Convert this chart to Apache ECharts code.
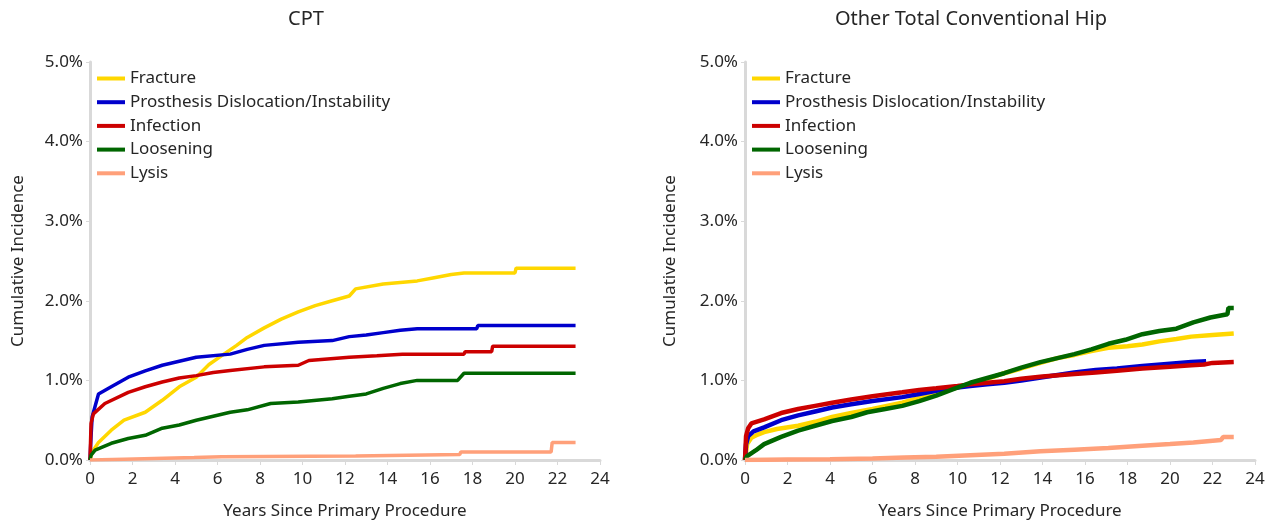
<!DOCTYPE html>
<html>
<head>
<meta charset="utf-8">
<script src="https://cdn.jsdelivr.net/npm/echarts@6/dist/echarts.min.js"></script>
<style>html,body{margin:0;padding:0;background:#fff}#c{width:1275px;height:526px}</style>
</head>
<body>
<div id="c"></div>
<script>
// Series names and colours
const seriesNames = ['Fracture','Prosthesis Dislocation/Instability','Infection','Loosening','Lysis'];
const seriesColors = ['#FFD700','#0000CC','#CC0000','#006600','#FFA07A'];
const xTicks = [0,2,4,6,8,10,12,14,16,18,20,22,24];
const yTicks = [0,1,2,3,4,5]; // percent

// CPT (left) – [years, cumulative incidence %]
const cptFracture = [[0,0],[0.1,0.1],[0.4,0.22],[1.0,0.375],[1.6,0.5],[2.6,0.6],[3.4,0.75],[4.2,0.92],[5.0,1.04],[5.6,1.2],[6.3,1.33],[6.9,1.44],[7.4,1.54],[8.2,1.66],[9.0,1.77],[9.8,1.86],[10.6,1.94],[11.4,2.0],[12.2,2.06],[12.5,2.15],[13.8,2.21],[15.4,2.25],[16.2,2.29],[17.0,2.33],[17.6,2.35],[20.0,2.35],[20.05,2.41],[22.85,2.41]];
const cptDislocation = [[0,0],[0.05,0.3],[0.1,0.54],[0.4,0.83],[1.0,0.92],[1.8,1.04],[2.6,1.12],[3.4,1.19],[4.2,1.24],[5.0,1.29],[6.6,1.33],[7.4,1.39],[8.2,1.44],[9.8,1.48],[11.4,1.5],[12.2,1.55],[13.0,1.57],[13.8,1.6],[14.6,1.63],[15.4,1.65],[18.2,1.65],[18.25,1.69],[22.85,1.69]];
const cptInfection = [[0,0],[0.05,0.46],[0.16,0.58],[0.7,0.71],[1.8,0.85],[2.6,0.92],[3.4,0.98],[4.2,1.03],[5.0,1.06],[5.8,1.1],[6.6,1.125],[8.2,1.17],[9.8,1.19],[10.3,1.25],[12.2,1.29],[13.5,1.31],[14.7,1.33],[17.6,1.33],[17.65,1.36],[18.9,1.36],[18.95,1.43],[22.85,1.43]];
const cptLoosening = [[0,0],[0.05,0.06],[0.24,0.125],[1.0,0.21],[1.8,0.27],[2.6,0.31],[3.4,0.4],[4.2,0.44],[5.0,0.5],[5.8,0.55],[6.6,0.6],[7.4,0.63],[8.5,0.71],[9.8,0.73],[11.4,0.77],[12.2,0.8],[13.0,0.83],[13.8,0.9],[14.6,0.96],[15.4,1.0],[17.3,1.0],[17.6,1.09],[22.85,1.09]];
const cptLysis = [[0,0],[0.05,0.01],[1.6,0.01],[1.65,0.03],[4.9,0.03],[4.95,0.04],[6.2,0.04],[6.25,0.05],[12.5,0.05],[12.55,0.07],[17.4,0.07],[17.45,0.1],[21.7,0.1],[21.75,0.22],[22.85,0.22]];

// Other Total Conventional Hip (right)
const othFracture = [[0,0],[0.1,0.2],[0.3,0.28],[0.6,0.32],[0.9,0.35],[1.5,0.39],[2.5,0.43],[3.3,0.48],[4.1,0.54],[5,0.59],[6,0.64],[7.4,0.72],[8.2,0.78],[9,0.85],[10,0.91],[10.6,0.95],[11.4,1.02],[12.2,1.09],[13,1.15],[13.9,1.22],[14.7,1.28],[15.5,1.32],[16.3,1.37],[17.1,1.41],[18,1.43],[18.7,1.45],[19.5,1.49],[20.3,1.52],[21,1.55],[22,1.57],[23,1.59]];
const othDislocation = [[0,0],[0.05,0.2],[0.15,0.3],[0.4,0.36],[0.9,0.41],[1.7,0.5],[2.5,0.56],[3.3,0.61],[4.1,0.66],[5,0.7],[6,0.74],[7.4,0.79],[8.2,0.83],[9,0.87],[10,0.91],[10.6,0.93],[11.4,0.95],[12.2,0.97],[13,1.0],[14,1.04],[15.5,1.1],[16.5,1.13],[17.5,1.15],[18.7,1.18],[20,1.21],[21,1.23],[21.7,1.24]];
const othInfection = [[0,0],[0.05,0.3],[0.15,0.4],[0.3,0.46],[0.9,0.51],[1.7,0.59],[2.5,0.64],[3.3,0.68],[4.1,0.72],[5,0.76],[6,0.8],[7.4,0.85],[8.2,0.88],[9,0.9],[10,0.93],[10.6,0.95],[11.4,0.97],[12.2,0.99],[13,1.02],[14,1.05],[15.5,1.08],[16.5,1.1],[17.5,1.12],[18.7,1.15],[20,1.17],[21,1.19],[21.6,1.2],[22,1.22],[23,1.23]];
const othLoosening = [[0,0],[0.1,0.05],[0.5,0.12],[0.9,0.2],[1.7,0.29],[2.5,0.37],[3.3,0.43],[4.1,0.49],[5,0.54],[5.75,0.6],[6.6,0.64],[7.4,0.68],[8.2,0.74],[9,0.81],[9.8,0.89],[10.6,0.97],[11.4,1.03],[12.2,1.09],[13,1.16],[13.9,1.23],[14.7,1.28],[15.5,1.33],[16.3,1.39],[17.1,1.46],[17.9,1.51],[18.7,1.58],[19.5,1.62],[20.3,1.65],[21.1,1.73],[21.9,1.79],[22.7,1.83],[22.75,1.91],[23,1.91]];
const othLysis = [[0,0],[2,0.005],[4,0.01],[6,0.02],[7.5,0.03],[9,0.04],[10.6,0.06],[12.2,0.08],[13.9,0.11],[15.5,0.13],[17.1,0.15],[18.7,0.18],[20,0.2],[21.1,0.22],[22.4,0.25],[22.5,0.29],[23,0.29]];

const panelTitles = ['CPT','Other Total Conventional Hip'];
const xName = 'Years Since Primary Procedure';
const yName = 'Cumulative Incidence';

const leftData = [cptFracture,cptDislocation,cptInfection,cptLoosening,cptLysis];
const rightData = [othFracture,othDislocation,othInfection,othLoosening,othLysis];

const FONT = 'Noto Sans';
const txt = '#262626';
const FS = 17;
function xAxis(gi){
  return {gridIndex:gi,type:'value',min:xTicks[0],max:xTicks[xTicks.length-1],interval:2,
    name:xName,nameLocation:'middle',nameGap:43,nameTextStyle:{fontFamily:FONT,fontSize:FS,color:txt},
    axisLine:{lineStyle:{color:'#d9d9d9',width:3}},
    axisTick:{show:true,length:5,lineStyle:{color:'#d9d9d9',width:1}},
    axisLabel:{fontFamily:FONT,fontSize:FS,color:txt,margin:11},
    splitLine:{show:false}};
}
function yAxis(gi,gap){
  return {gridIndex:gi,type:'value',min:yTicks[0],max:yTicks[yTicks.length-1],interval:1,
    name:yName,nameLocation:'middle',nameGap:gap,nameTextStyle:{fontFamily:FONT,fontSize:FS,color:txt},
    axisLine:{show:true,lineStyle:{color:'#d9d9d9',width:3}},
    axisTick:{show:true,length:4,lineStyle:{color:'#d9d9d9',width:1}},
    axisLabel:{fontFamily:FONT,fontSize:FS,color:txt,margin:7,formatter:v=>v.toFixed(1)+'%'},
    splitLine:{show:false}};
}
function legend(left){
  return {orient:'vertical',left:left,top:69,padding:0,icon:'rect',itemWidth:28,itemHeight:4,itemGap:4.7,
    textStyle:{fontFamily:FONT,fontSize:FS,color:txt,lineHeight:19},data:seriesNames};
}
const series=[];
[leftData,rightData].forEach((set,gi)=>{
  set.forEach((d,i)=>{
    series.push({name:seriesNames[i],type:'line',xAxisIndex:gi,yAxisIndex:gi,data:d,
      showSymbol:false,symbol:'none',lineStyle:{width:gi===0?3.5:4.5,color:seriesColors[i]},itemStyle:{color:seriesColors[i]},
      z:2+i});
  });
});
const chart = echarts.init(document.getElementById('c'),null,{renderer:'canvas'});
chart.setOption({
  animation:false,
  title:[
    {text:panelTitles[0],left:301,top:4,textAlign:'center',textStyle:{fontFamily:FONT,fontSize:20,fontWeight:'normal',color:txt}},
    {text:panelTitles[1],left:966,top:4,textAlign:'center',textStyle:{fontFamily:FONT,fontSize:20,fontWeight:'normal',color:txt}}
  ],
  legend:[legend(97),legend(752)],
  grid:[{left:90,top:62,width:510,height:398},{left:745,top:62,width:510,height:398}],
  xAxis:[xAxis(0),xAxis(1)],
  yAxis:[yAxis(0,63),yAxis(1,66)],
  series:series
});
</script>
</body>
</html>
